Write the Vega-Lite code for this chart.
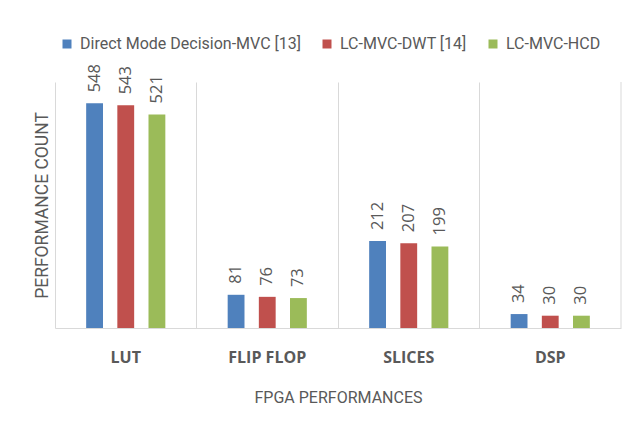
{
  "$schema": "https://vega.github.io/schema/vega-lite/v6.json",
  "autosize": {"type": "none"},
  "width": 566,
  "height": 246,
  "padding": {"left": 55, "top": 82, "right": 6, "bottom": 98},
  "background": "white",
  "config": {"view": {"stroke": null}, "font": "Roboto"},
  "data": {"values": [
    {"cat": "LUT", "series": "Direct Mode Decision-MVC [13]", "value": 548},
    {"cat": "LUT", "series": "LC-MVC-DWT [14]", "value": 543},
    {"cat": "LUT", "series": "LC-MVC-HCD", "value": 521},
    {"cat": "FLIP FLOP", "series": "Direct Mode Decision-MVC [13]", "value": 81},
    {"cat": "FLIP FLOP", "series": "LC-MVC-DWT [14]", "value": 76},
    {"cat": "FLIP FLOP", "series": "LC-MVC-HCD", "value": 73},
    {"cat": "SLICES", "series": "Direct Mode Decision-MVC [13]", "value": 212},
    {"cat": "SLICES", "series": "LC-MVC-DWT [14]", "value": 207},
    {"cat": "SLICES", "series": "LC-MVC-HCD", "value": 199},
    {"cat": "DSP", "series": "Direct Mode Decision-MVC [13]", "value": 34},
    {"cat": "DSP", "series": "LC-MVC-DWT [14]", "value": 30},
    {"cat": "DSP", "series": "LC-MVC-HCD", "value": 30}
  ]},
  "encoding": {
    "x": {
      "field": "cat", "type": "nominal", "sort": ["LUT", "FLIP FLOP", "SLICES", "DSP"],
      "scale": {"domain": ["LUT", "FLIP FLOP", "SLICES", "DSP"], "paddingInner": 0, "paddingOuter": 0},
      "axis": {
        "title": "FPGA PERFORMANCES", "labelAngle": 0, "ticks": false,
        "grid": true, "bandPosition": 0, "gridColor": "#d9d9d9", "gridWidth": 1,
        "domainColor": "#d9d9d9", "labelFont": "Open Sans", "labelFontSize": 16,
        "labelFontWeight": "bold", "labelColor": "#595959", "labelPadding": 21,
        "titleFont": "Roboto", "titleFontSize": 16, "titleFontWeight": "normal",
        "titleColor": "#595959", "titlePadding": 24
      }
    },
    "xOffset": {"field": "series", "type": "nominal",
      "sort": ["Direct Mode Decision-MVC [13]", "LC-MVC-DWT [14]", "LC-MVC-HCD"],
      "scale": {"paddingInner": 0.46, "paddingOuter": 1.13}},
    "y": {
      "field": "value", "type": "quantitative",
      "scale": {"domain": [0, 600], "nice": false},
      "axis": {
        "title": "PERFORMANCE COUNT", "labels": false, "ticks": false, "domain": false,
        "grid": false, "titleFont": "Roboto", "titleFontSize": 17.5,
        "titleFontWeight": "normal", "titleColor": "#595959", "titlePadding": 4
      }
    }
  },
  "layer": [
    {
      "mark": {"type": "bar"},
      "encoding": {
        "color": {
          "field": "series", "type": "nominal",
          "sort": ["Direct Mode Decision-MVC [13]", "LC-MVC-DWT [14]", "LC-MVC-HCD"],
          "scale": {"range": ["#4F81BD", "#C0504D", "#9BBB59"]},
          "legend": {
            "title": null, "orient": "none", "direction": "horizontal",
            "legendX": 4, "legendY": -46, "symbolType": "square", "symbolSize": 81,
            "symbolStrokeWidth": 0, "labelFont": "Roboto", "labelFontSize": 16,
            "labelFontWeight": "normal", "labelColor": "#595959", "columnPadding": 18,
            "labelOffset": 5, "labelLimit": 400
          }
        }
      }
    },
    {
      "mark": {"type": "text", "angle": -90, "align": "left", "baseline": "middle",
        "dx": 11, "font": "Open Sans", "fontSize": 16.5, "fill": "#595959"},
      "encoding": {"text": {"field": "value", "type": "quantitative"}}
    },
    {
      "data": {"values": [{"cat": "DSP"}]},
      "mark": {"type": "rule", "color": "#d9d9d9", "strokeWidth": 1},
      "encoding": {
        "x": {"field": "cat", "type": "nominal", "bandPosition": 1},
        "xOffset": null, "y": null
      }
    }
  ]
}
